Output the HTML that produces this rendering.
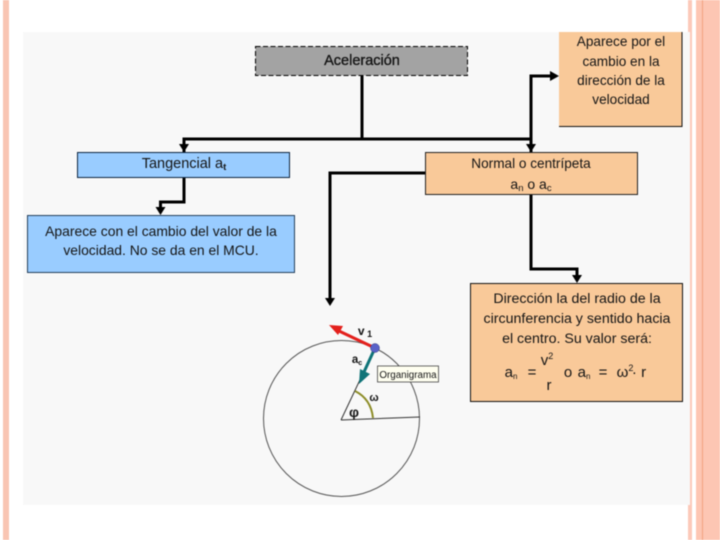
<!DOCTYPE html>
<html><head><meta charset="utf-8"><style>
html,body{margin:0;padding:0;background:#fff}
svg{display:block;filter:blur(.4px)}
text{font-family:"Liberation Sans",sans-serif;fill:#151515;text-anchor:middle;font-size:14px}
</style></head><body>
<svg width="720" height="540" viewBox="0 0 720 540" xmlns="http://www.w3.org/2000/svg">
<rect width="720" height="540" fill="#fff"/>
<rect x="3" y="0" width="6" height="540" fill="#f9c5b3"/>
<rect x="688" y="0" width="4" height="540" fill="#fcc9b9"/>
<rect x="696" y="0" width="24" height="540" fill="#fdc6b3"/>
<rect x="702" y="0" width="1" height="540" fill="#f2a27f"/>
<rect x="23" y="32" width="667" height="473" fill="#f8f8f8"/>

<!-- connectors -->
<g fill="none" stroke="#000" stroke-width="3">
<path d="M362 75V139"/><path d="M184 152V139H531"/><path d="M531 152V76H552"/>
<path d="M184 177V202H160.500V210"/>
<path d="M425 173H330V300"/>
<path d="M531 195V269H577V278"/>
</g>
<g fill="#000">
<path d="M179 144h10l-5 8z"/><path d="M526 144h10l-5 8z"/><path d="M550 71l9 5-9 5z"/>
<path d="M155.500 207h10l-5 8z"/><path d="M325 298h10l-5 8z"/><path d="M572 275h10l-5 8z"/>
</g>

<!-- boxes -->
<rect x="255.500" y="46.500" width="212" height="29" fill="#a3a3a3" stroke="#000" stroke-dasharray="5 2.500"/>
<text x="362" y="65" style="font-size:14.500px" stroke="#151515" stroke-width=".35">Aceleración</text>

<rect x="559" y="32" width="123" height="94" fill="#f9c999"/>
<path d="M682 32V126.500H559" fill="none" stroke="#111"/>
<text x="621" y="46" style="font-size:13.600px">Aparece por el</text>
<text x="621" y="66" style="font-size:13.600px">cambio en la</text>
<text x="621" y="85" style="font-size:13.600px">dirección de la</text>
<text x="621" y="104" style="font-size:13.600px">velocidad</text>

<rect x="77.500" y="152.500" width="212" height="25" fill="#99ccff" stroke="#0d2540"/>
<text x="184" y="168" style="font-size:14.500px">Tangencial a<tspan font-size="9.500" font-weight="700" dy="2">t</tspan></text>

<rect x="425.500" y="152.500" width="212" height="42" fill="#f9c999" stroke="#222"/>
<text x="531" y="168" style="font-size:13.600px">Normal o centrípeta</text>
<text x="531" y="189" style="font-size:14px">a<tspan font-size="9.500" dy="2">n</tspan><tspan dy="-2"> o a</tspan><tspan font-size="9.500" dy="2">c</tspan></text>

<rect x="27.500" y="215.500" width="267" height="57" fill="#99ccff" stroke="#25405c"/>
<text x="161" y="236" style="font-size:13.900px">Aparece con el cambio del valor de la</text>
<text x="161" y="255" style="font-size:13.900px">velocidad. No se da en el MCU.</text>

<rect x="470.500" y="283.500" width="212" height="118" fill="#f9c999" stroke="#111"/>
<text x="577" y="303" style="font-size:14.200px">Dirección la del radio de la</text>
<text x="577" y="323" style="font-size:14.200px">circunferencia y sentido hacia</text>
<text x="577" y="343" style="font-size:14.200px">el centro. Su valor será:</text>
<text x="511" y="377" style="font-size:15px">a<tspan font-size="8" dy="2">n</tspan></text>
<text x="532" y="377" style="font-size:15px">=</text>
<text x="547" y="365" style="font-size:15px">v<tspan font-size="9" dy="-6">2</tspan></text>
<text x="549" y="390" style="font-size:15px">r</text>
<text x="568" y="377" style="font-size:15px">o</text>
<text x="584" y="377" style="font-size:15px">a<tspan font-size="8" dy="2">n</tspan></text>
<text x="603" y="377" style="font-size:15px">=</text>
<text x="625" y="377" style="font-size:15px">ω<tspan font-size="9" dy="-6">2</tspan></text>
<text x="639" y="377" style="font-size:15px">· r</text>

<!-- circle diagram -->
<circle cx="341.500" cy="418.500" r="78" fill="none" stroke="#555" stroke-width="1"/>
<path d="M341 420L375 348M341 420L420 417" fill="none" stroke="#333" stroke-width="1"/>
<path d="M355 391Q371 399 373 418" fill="none" stroke="#8d8d28" stroke-width="2"/>
<path d="M375 348L339 331" stroke="#e3201c" stroke-width="3"/>
<path d="M329 325l14 1-5 9z" fill="#e3201c"/>
<path d="M375 348L364 372" stroke="#0f7478" stroke-width="3"/>
<path d="M359 384l1-15 10 5z" fill="#0f7478"/>
<circle cx="375" cy="348" r="4.500" fill="#5a62c8" stroke="#3a3f80" stroke-width=".5"/>
<text x="365" y="335" style="font-size:12px;font-weight:700">v<tspan font-size="9" dy="2"> 1</tspan></text>
<text x="357" y="363" style="font-size:11.500px;font-weight:700">a<tspan font-size="7" dy="2">c</tspan></text>
<text x="374" y="401" style="font-size:11px;font-weight:700">ω</text>
<text x="354" y="417" style="font-size:14px;font-weight:700">φ</text>
<rect x="377.500" y="366" width="61" height="16" fill="#fffff0" stroke="#444" stroke-width=".8"/>
<text x="408" y="378" style="font-size:9.800px">Organigrama</text>
</svg>
</body></html>
